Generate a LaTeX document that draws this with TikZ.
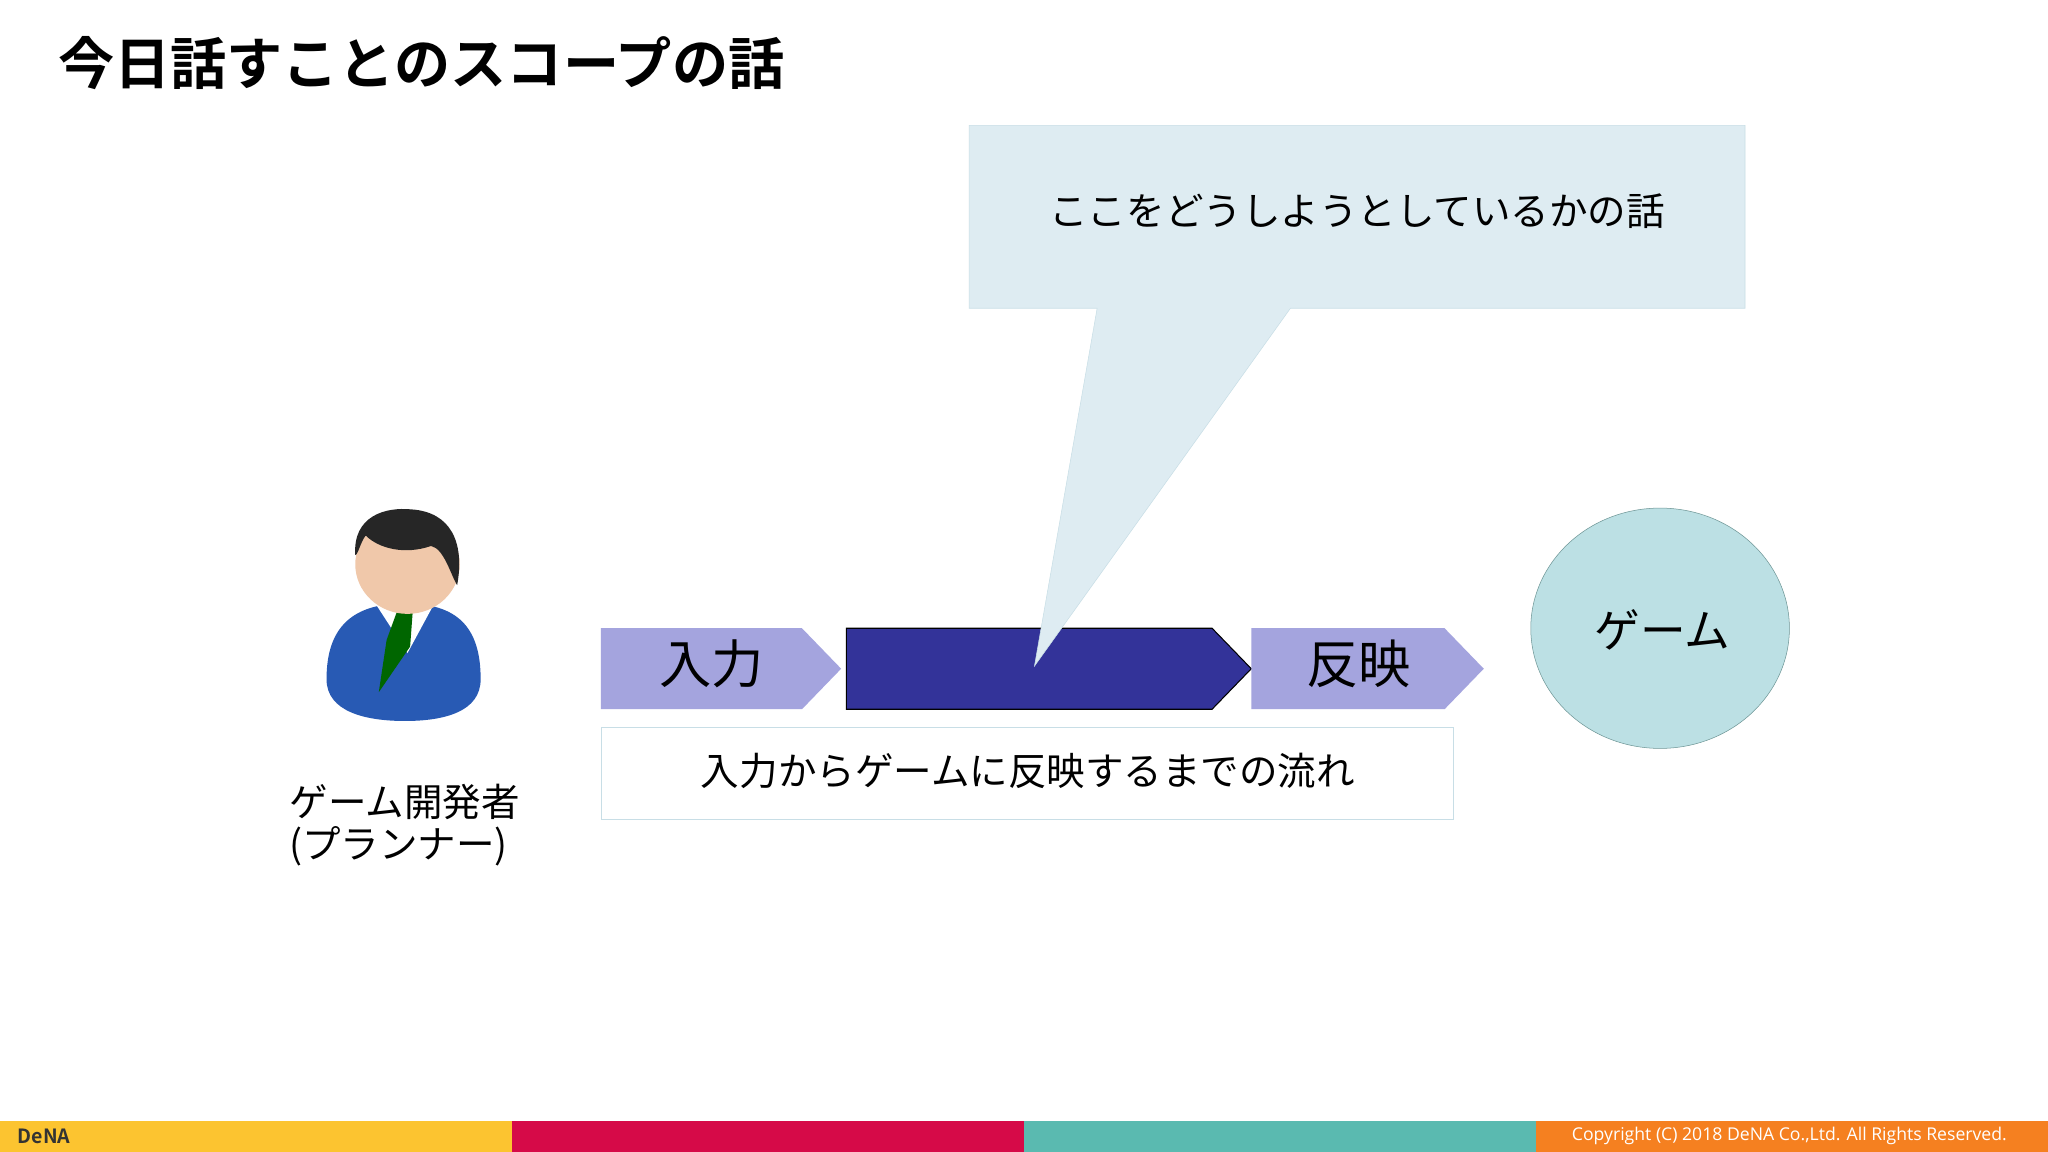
\documentclass[tikz,border=0pt]{standalone}
\usepackage{fontspec}
\setmainfont{Noto Sans CJK JP}
\newfontfamily\jpbold{Noto Sans CJK JP Bold}
\newfontfamily\opensans{Open Sans}
\definecolor{callout}{RGB}{222,236,242}
\definecolor{calloutln}{RGB}{200,222,230}
\definecolor{lightchev}{RGB}{164,164,222}
\definecolor{darkchev}{RGB}{51,51,153}
\definecolor{gamefill}{RGB}{188,224,228}
\definecolor{gameln}{RGB}{110,150,150}
\definecolor{fyel}{RGB}{252,196,48}
\definecolor{fred}{RGB}{214,10,72}
\definecolor{fteal}{RGB}{90,186,176}
\definecolor{forg}{RGB}{245,128,32}
\definecolor{suit}{RGB}{40,90,180}
\definecolor{skin}{RGB}{240,200,170}
\tikzset{
 lbl/.style={font=\fontsize{29.5}{33}\selectfont, text=black},
 big/.style={font=\fontsize{40}{44}\selectfont, text=black},
 chevlight/.style={fill=lightchev, draw=none},
 chevdark/.style={fill=darkchev, draw=black, line width=0.8pt},
}
\begin{document}
\begin{tikzpicture}[x=1pt,y=-1pt]
\useasboundingbox (0,0) rectangle (1568,882);
\fill[white] (0,0) rectangle (1568,882);
% title
\node[anchor=west, font=\jpbold\fontsize{43}{47}\selectfont] (title) at (41,48) {今日話すことのスコープの話};
% chevrons
\fill[chevlight] (460,481) -- (614,481) -- (644,512) -- (614,543) -- (460,543) -- cycle;
\node[big] (in) at (545,508) {入力};
\filldraw[chevdark] (648,481) -- (928,481) -- (958,512) -- (928,543) -- (648,543) -- cycle;
\fill[chevlight] (958,481) -- (1106,481) -- (1136,512) -- (1106,543) -- (958,543) -- cycle;
\node[big] (ref) at (1040,508) {反映};
% callout
\filldraw[fill=callout, draw=calloutln] (742,96) -- (1336,96) -- (1336,236) -- (988,236) -- (792,510) -- (840,236) -- (742,236) -- cycle;
\node[lbl] (ct) at (1039,162) {ここをどうしようとしているかの話};
% flow box
\draw[draw=calloutln, fill=white] (460,557) rectangle (1113,627);
\node[lbl] (flow) at (787,590) {入力からゲームに反映するまでの流れ};
% game
\filldraw[fill=gamefill, draw=gameln] (1271,481) ellipse [x radius=99, y radius=92];
\node[font=\fontsize{35}{38}\selectfont] (game) at (1273,482) {ゲーム};
% person
\fill[suit] (250,520) .. controls (250,480) and (270,462) .. (310,462) .. controls (350,462) and (368,480) .. (368,520) .. controls (368,545) and (340,552) .. (310,552) .. controls (280,552) and (250,545) .. (250,520) -- cycle;
\fill[white] (288,463) -- (332,463) -- (312,500) -- cycle;
\fill[green!40!black] (304,468) -- (316,468) -- (314,495) -- (290,530) -- (296,490) -- cycle;
\fill[skin] (312,432) ellipse [x radius=40, y radius=38];
\fill[black!85] (272,425) .. controls (270,395) and (295,388) .. (315,390) .. controls (345,392) and (356,415) .. (350,448) .. controls (345,440) and (340,420) .. (330,418) .. controls (310,425) and (290,420) .. (280,410) .. controls (276,415) and (274,425) .. (272,425) -- cycle;
\node[lbl] (dev1) at (310,614) {ゲーム開発者};
\node[lbl] (dev2) at (305,648) {(プランナー)};
% footer
\fill[fyel] (0,858) rectangle (392,882);
\fill[fred] (392,858) rectangle (784,882);
\fill[fteal] (784,858) rectangle (1176,882);
\fill[forg] (1176,858) rectangle (1568,882);
\node[anchor=west, font=\jpbold\fontsize{15}{16}\selectfont\itshape, text=black!80] (logo) at (10,870) {DeNA};
\node[anchor=east, font=\opensans\fontsize{13.5}{15}\selectfont, text=white] (copy) at (1540,870) {Copyright (C) 2018 DeNA Co.,Ltd. All Rights Reserved.};
\end{tikzpicture}
\end{document}
